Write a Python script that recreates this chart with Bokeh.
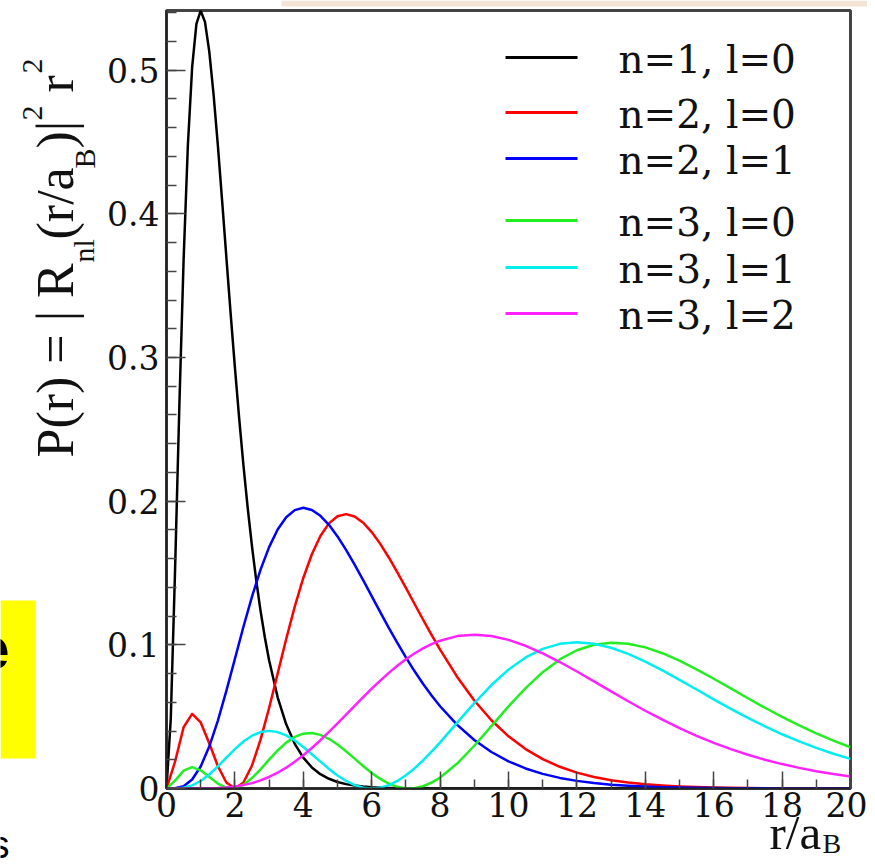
from bokeh.plotting import figure
from bokeh.layouts import column
from bokeh.models import Range1d, FixedTicker, Label, BoxAnnotation
from bokeh.embed import file_html
from bokeh.resources import INLINE
import math

# ---------------- data ----------------
r_1s = [0, 0.125, 0.25, 0.375, 0.5, 0.625, 0.75, 0.875, 1.0, 1.125, 1.25, 1.375,
        1.5, 1.625, 1.75, 1.875, 2.0, 2.125, 2.25, 2.375, 2.5, 2.625, 2.75, 2.875,
        3.0, 3.25, 3.5, 3.75, 4.0, 4.25, 4.5, 4.75, 5.0, 5.25, 5.5, 5.75, 6.0, 6.25,
        6.5, 6.75, 7.0, 7.25, 7.5, 7.75, 8.0, 9, 10, 12, 14, 16, 18, 20]
p_1s = [0, 0.04868, 0.15163, 0.26571, 0.36788, 0.44766, 0.50204, 0.53218, 0.54134,
        0.53358, 0.51303, 0.48346, 0.44808, 0.40955, 0.36991, 0.33072, 0.29305,
        0.25764, 0.22496, 0.19521, 0.16845, 0.14465, 0.12363, 0.10524, 0.08924,
        0.06350, 0.04469, 0.03111, 0.02147, 0.01468, 0.00999, 0.00676, 0.00454,
        0.00304, 0.00202, 0.00134, 0.00089, 0.00058, 0.00038, 0.00025, 0.00016,
        0.00011, 0.00007, 0.00004, 0.00003, 0.000005, 0, 0, 0, 0, 0, 0]

r = [0, 0.25, 0.5, 0.75, 1, 1.25, 1.5, 1.75, 2, 2.25, 2.5, 2.75, 3, 3.25, 3.5, 3.75,
     4, 4.25, 4.5, 4.75, 5, 5.25, 5.5, 5.75, 6, 6.25, 6.5, 6.75, 7, 7.25, 7.5, 7.75,
     8, 8.5, 9, 9.5, 10, 10.5, 11, 11.5, 12, 12.5, 13, 13.5, 14, 14.5, 15, 15.5, 16,
     16.5, 17, 17.5, 18, 18.5, 19, 19.5, 20]
p_2s = [0, 0.01863, 0.04265, 0.05190, 0.04599, 0.03148, 0.01569, 0.00416, 0,
        0.00417, 0.01603, 0.03399, 0.05601, 0.07999, 0.10404, 0.12660, 0.14653,
        0.16304, 0.17575, 0.18454, 0.18951, 0.19098, 0.18931, 0.18499, 0.17847,
        0.17026, 0.16078, 0.15046, 0.13963, 0.12861, 0.11764, 0.10692, 0.09661,
        0.07764, 0.06123, 0.04750, 0.03632, 0.02742, 0.02046, 0.01511, 0.01106,
        0.00803, 0.00578, 0.00413, 0.00293, 0.00207, 0.00145, 0.00102, 0.00071,
        0.00049, 0.00034, 0.00023, 0.00016, 0.00011, 0.00007, 0.00005, 0.00003]
p_2p = [0, 0.00013, 0.00158, 0.00623, 0.01533, 0.02915, 0.04707, 0.06791, 0.09022,
        0.11255, 0.13360, 0.15234, 0.16803, 0.18024, 0.18881, 0.19378, 0.19537,
        0.19390, 0.18981, 0.18352, 0.17547, 0.16610, 0.15582, 0.14497, 0.13386,
        0.12274, 0.11182, 0.10128, 0.09123, 0.08175, 0.07292, 0.06474, 0.05725,
        0.04426, 0.03374, 0.02540, 0.01892, 0.01395, 0.01019, 0.00738, 0.00531,
        0.00379, 0.00269, 0.00190, 0.00133, 0.00093, 0.00065, 0.00045, 0.00031,
        0.00021, 0.00014, 0.00010, 0.00007, 0.00005, 0.00003, 0.00002, 0.00001]
p_3s = [0, 0.00550, 0.01246, 0.01483, 0.01263, 0.00802, 0.00341, 0.00051, 0.00021,
        0.00261, 0.00726, 0.01336, 0.02005, 0.02647, 0.03193, 0.03592, 0.03818,
        0.03862, 0.03734, 0.03457, 0.03063, 0.02590, 0.02078, 0.01565, 0.01085,
        0.00669, 0.00341, 0.00117, 0.00009, 0.00022, 0.00156, 0.00405, 0.00760,
        0.01739, 0.02975, 0.04340, 0.05713, 0.06992, 0.08099, 0.08984, 0.09622,
        0.10006, 0.10150, 0.10080, 0.09823, 0.09416, 0.08895, 0.08293, 0.07640,
        0.06963, 0.06284, 0.05620, 0.04984, 0.04387, 0.03833, 0.03328, 0.02871]
p_3p = [0, 0.00004, 0.00055, 0.00215, 0.00522, 0.00973, 0.01533, 0.02144, 0.02743,
        0.03269, 0.03674, 0.03926, 0.04010, 0.03929, 0.03697, 0.03340, 0.02892,
        0.02389, 0.01867, 0.01363, 0.00906, 0.00524, 0.00238, 0.00060, 0,
        0.00060, 0.00238, 0.00527, 0.00918, 0.01397, 0.01950, 0.02561, 0.03215,
        0.04588, 0.05949, 0.07202, 0.08276, 0.09123, 0.09720, 0.10067, 0.10178,
        0.10077, 0.09796, 0.09372, 0.08836, 0.08224, 0.07567, 0.06888, 0.06209,
        0.05547, 0.04916, 0.04323, 0.03775, 0.03275, 0.02824, 0.02421, 0.02064]
p_3d = [0, 0, 0, 0.00001, 0.00004, 0.00013, 0.00034, 0.00073, 0.00137, 0.00235,
        0.00375, 0.00562, 0.00802, 0.01097, 0.01449, 0.01856, 0.02314, 0.02818,
        0.03361, 0.03935, 0.04531, 0.05140, 0.05752, 0.06357, 0.06947, 0.07512,
        0.08046, 0.08541, 0.08994, 0.09397, 0.09748, 0.10047, 0.10288,
        0.10608, 0.10708, 0.10612, 0.10345, 0.09933, 0.09409, 0.08803, 0.08143,
        0.07453, 0.06757, 0.06073, 0.05412, 0.04787, 0.04204, 0.03667, 0.03179,
        0.02740, 0.02348, 0.02002, 0.01699, 0.01435, 0.01206, 0.01010, 0.00843]

series_labels = ["n=1, l=0", "n=2, l=0", "n=2, l=1", "n=3, l=0", "n=3, l=1", "n=3, l=2"]
series_colors = ["#000000", "#ff0000", "#0000ff", "#22ee22", "#00eeee", "#ff22ff"]

x_tick_vals = [0, 2, 4, 6, 8, 10, 12, 14, 16, 18, 20]
x_minor_vals = list(range(0, 21))
y_tick_vals = [0, 0.1, 0.2, 0.3, 0.4, 0.5]
y_tick_labels = ["0", "0.1", "0.2", "0.3", "0.4", "0.5"]
y_minor_vals = [round(0.02 * i, 2) for i in range(0, 28)]

W, H = 867, 859
FL, FR, FT, FB = 166, 850, 10, 788      # frame edges in page pixels

# ---------------- main figure ----------------
p = figure(width=W, height=H, x_range=Range1d(0, 20), y_range=Range1d(0, 0.5415),
           output_backend="svg", toolbar_location=None,
           min_border_left=FL, min_border_right=W - FR, min_border_top=FT,
           min_border_bottom=H - FB)
p.xgrid.visible = False
p.ygrid.visible = False
p.background_fill_color = "white"
p.border_fill_color = "white"
p.outline_line_color = "#444444"
p.outline_line_width = 3

TICK_FONT = "DejaVu Serif"
for ax in (p.xaxis[0], p.yaxis[0]):
    ax.axis_line_color = "#222222"
    ax.axis_line_width = 2
    ax.major_tick_line_color = "#444444"
    ax.minor_tick_line_color = "#444444"
    ax.major_tick_line_width = 1.5
    ax.minor_tick_line_width = 1.5
    ax.major_tick_out = 0
    ax.minor_tick_out = 0
    ax.major_label_text_font = TICK_FONT
    ax.major_label_text_font_size = "33px"
    ax.major_label_text_color = "#111111"

p.xaxis.ticker = FixedTicker(ticks=x_tick_vals, minor_ticks=x_minor_vals)
p.yaxis.ticker = FixedTicker(ticks=y_tick_vals, minor_ticks=y_minor_vals)
p.yaxis.major_label_overrides = {v: s for v, s in zip(y_tick_vals, y_tick_labels)}
p.xaxis.major_tick_in = 17
p.xaxis.minor_tick_in = 9
p.yaxis.major_tick_in = 19
p.yaxis.minor_tick_in = 10
p.xaxis.major_label_standoff = 3
p.yaxis.major_label_standoff = 7

xs = [r_1s, r, r, r, r, r]
ys = [p_1s, p_2s, p_2p, p_3s, p_3p, p_3d]
for xv, yv, c in zip(xs, ys, series_colors):
    p.line(xv, yv, line_color=c, line_width=2.5, line_join="round")

# legend (manual, irregular row spacing as in the reference)
row_y = [57, 112, 158, 220, 267, 313]
for lab, c, yy in zip(series_labels, series_colors, row_y):
    p.add_layout(BoxAnnotation(left=505 - FL, right=577 - FL, bottom=FB - yy - 1.5, top=FB - yy + 1.5,
                               left_units="screen", right_units="screen",
                               bottom_units="screen", top_units="screen",
                               fill_color=c, fill_alpha=1.0, line_color=None))
    p.add_layout(Label(x=618 - FL, y=FB - (yy + 2), x_units="screen", y_units="screen",
                       text=lab, text_font=TICK_FONT, text_font_size="39px",
                       text_color="#111111", text_baseline="middle", text_align="left"))

# ---------------- transparent overlay for texts outside the frame ----------------
ov = figure(width=W, height=H, output_backend="svg", toolbar_location=None,
            x_axis_type=None, y_axis_type=None, min_border=0,
            x_range=Range1d(0, 1), y_range=Range1d(0, 1))
ov.outline_line_color = None
ov.background_fill_alpha = 0
ov.border_fill_alpha = 0
ov.margin = (-H, 0, 0, 0)
for fig in (p, ov):
    try:
        fig.frame_align = False
    except Exception:
        pass

TF = "Liberation Serif"
# (text, page x of the glyph centre line, page y where the piece starts, font size)
ytitle = [("P(r) = | R", 55, 457, "52px"), ("nl", 83, 262, "30px"), ("(r/a", 55, 239, "52px"),
          ("B", 84, 168, "30px"), (")|", 55, 148, "52px"), ("2", 32, 120, "30px"),
          ("r", 55, 92, "52px"), ("2", 32, 73, "30px")]
for t, ix, iy, fs in ytitle:
    ov.add_layout(Label(x=ix, y=H - iy, x_units="screen", y_units="screen", text=t,
                        angle=math.pi / 2, text_font=TF, text_font_size=fs, text_color="#111111",
                        text_baseline="middle", text_align="left"))

xtitle = [("r/a", 769, 832, "49px"), ("B", 822, 843, "28px")]
for t, ix, iy, fs in xtitle:
    ov.add_layout(Label(x=ix, y=H - iy, x_units="screen", y_units="screen", text=t,
                        text_font=TF, text_font_size=fs, text_color="#111111",
                        text_baseline="middle", text_align="left"))

# slide decorations visible at the page edges
ov.add_layout(BoxAnnotation(left=0, right=35, bottom=H - 758, top=H - 600,
                            left_units="screen", right_units="screen",
                            bottom_units="screen", top_units="screen",
                            fill_color="#ffff00", fill_alpha=1.0, line_color=None))
ov.add_layout(BoxAnnotation(left=281, right=W, bottom=H - 6, top=H,
                            left_units="screen", right_units="screen",
                            bottom_units="screen", top_units="screen",
                            fill_color="#f4e4d6", fill_alpha=1.0, line_color=None))
ov.add_layout(Label(x=9, y=H - 648, x_units="screen", y_units="screen", text="e",
                    text_font="Liberation Sans", text_font_style="bold", text_font_size="60px",
                    text_color="black", text_align="right", text_baseline="middle"))
ov.add_layout(Label(x=9, y=H - 844, x_units="screen", y_units="screen", text="s",
                    text_font="Liberation Sans", text_font_size="38px",
                    text_color="black", text_align="right", text_baseline="middle"))

layout = column(p, ov)
open("out.html", "w").write(file_html(layout, INLINE))
